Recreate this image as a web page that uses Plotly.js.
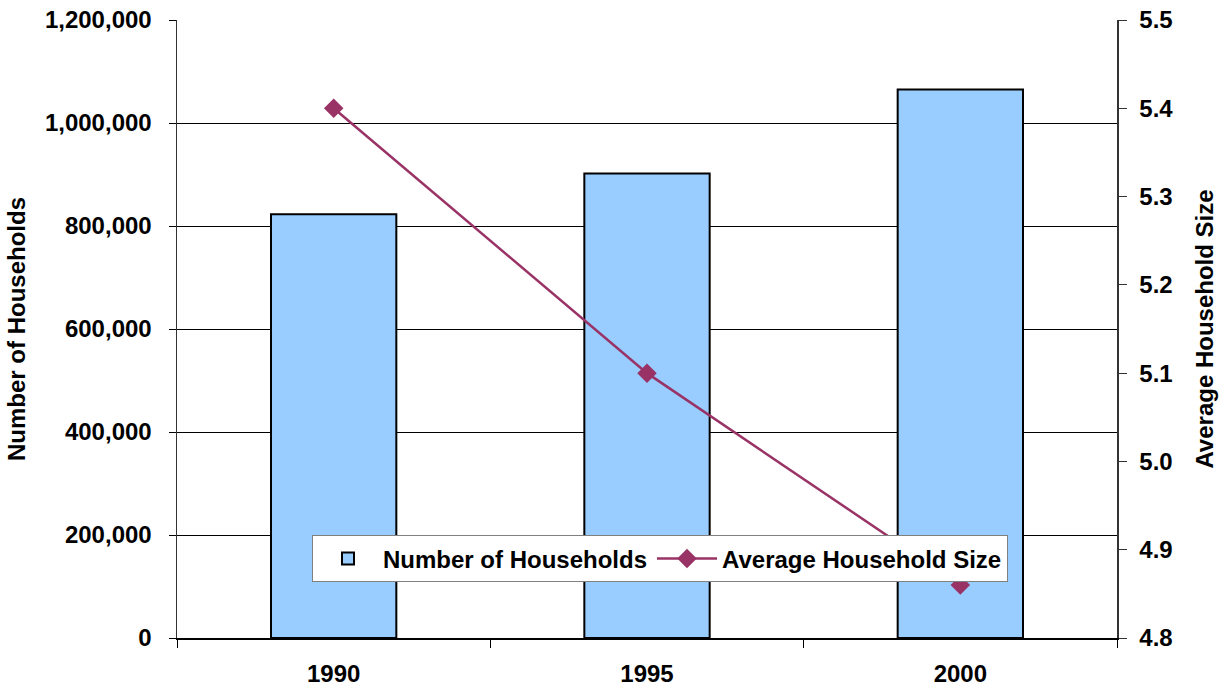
<!DOCTYPE html>
<html>
<head>
<meta charset="utf-8">
<script src="https://cdn.plot.ly/plotly-3.0.1.min.js"></script>
<style>html,body{margin:0;padding:0;background:#fff;}#chart{width:1220px;height:690px;}</style>
</head>
<body>
<div id="chart"></div>
<script>
var years = ['1990', '1995', '2000'];
var households = [823000, 902000, 1065000];
var avgSize = [5.40, 5.10, 4.86];
var leftTicks = [0, 200000, 400000, 600000, 800000, 1000000, 1200000];
var leftTickText = ['0', '200,000', '400,000', '600,000', '800,000', '1,000,000', '1,200,000'];
var rightTicks = [4.8, 4.9, 5.0, 5.1, 5.2, 5.3, 5.4, 5.5];
var rightTickText = ['4.8', '4.9', '5.0', '5.1', '5.2', '5.3', '5.4', '5.5'];

var FONT = 'Liberation Sans, Arial, sans-serif';
function f(sz) { return {family: FONT, size: sz, color: '#000', weight: 'bold'}; }
var FS = 24;

var traces = [
  {
    type: 'bar', name: 'Number of Households', x: years, y: households,
    width: 0.4,
    marker: {color: '#99CCFF', line: {color: '#000', width: 2}},
    hoverinfo: 'skip'
  },
  {
    type: 'scatter', mode: 'lines+markers', name: 'Average Household Size',
    x: years, y: avgSize, yaxis: 'y2',
    line: {color: '#993366', width: 2.5},
    marker: {symbol: 'diamond', size: 15, color: '#993366'},
    hoverinfo: 'skip'
  }
];

var layout = {
  width: 1220, height: 690,
  margin: {l: 177, r: 103, t: 20, b: 52},
  paper_bgcolor: '#fff', plot_bgcolor: '#fff',
  font: f(FS),
  showlegend: true,
  xaxis: {
    type: 'category',
    tickson: 'boundaries',
    ticks: 'outside', ticklen: 8, tickcolor: '#000', tickwidth: 1,
    showline: true, linecolor: '#000', linewidth: 1.5,
    showgrid: false, zeroline: false,
    tickfont: f(FS),
    ticklabelstandoff: 14,
    automargin: false
  },
  xaxis2: {
    overlaying: 'x', anchor: 'y', range: [-0.5, 2.5],
    tickvals: [-0.5, 0.5, 1.5, 2.5], ticktext: ['', '', '', ''],
    ticks: 'inside', ticklen: 8, tickcolor: '#000', tickwidth: 1,
    showline: false, showgrid: false, zeroline: false, showticklabels: false
  },
  yaxis: {
    range: [0, 1200000],
    tickvals: leftTicks, ticktext: leftTickText,
    ticks: 'outside', ticklen: 7, tickcolor: '#000', tickwidth: 1,
    showline: true, linecolor: '#333', linewidth: 1.5,
    showgrid: true, gridcolor: '#000', gridwidth: 1,
    zeroline: false,
    tickfont: f(FS),
    ticklabelstandoff: 12,
    automargin: false,
    title: {text: 'Number of Households', font: f(FS), standoff: 12}
  },
  yaxis2: {
    overlaying: 'y', side: 'right', anchor: 'x',
    range: [4.8, 5.5],
    tickvals: rightTicks, ticktext: rightTickText,
    ticks: 'outside', ticklen: 8, tickcolor: '#333', tickwidth: 1,
    showline: true, linecolor: '#333', linewidth: 1.5,
    showgrid: false, zeroline: false,
    tickfont: f(FS),
    ticklabelstandoff: 8,
    automargin: false,
    title: {text: 'Average Household Size', font: f(FS), standoff: 24}
  },
  yaxis3: {
    overlaying: 'y', side: 'right', anchor: 'x',
    range: [4.8, 5.5],
    tickvals: rightTicks,
    ticks: 'inside', ticklen: 8, tickcolor: '#333', tickwidth: 1,
    showline: false, showgrid: false, zeroline: false, showticklabels: false
  },
  legend: {
    orientation: 'h',
    x: 0.1436, y: 0.128, xanchor: 'left', yanchor: 'middle',
    bgcolor: '#fff', bordercolor: '#808080', borderwidth: 1,
    font: f(FS),
    itemwidth: 60,
    tracegroupgap: 0
  }
};

Plotly.newPlot('chart', traces, layout, {staticPlot: true, displayModeBar: false});
</script>
</body>
</html>
